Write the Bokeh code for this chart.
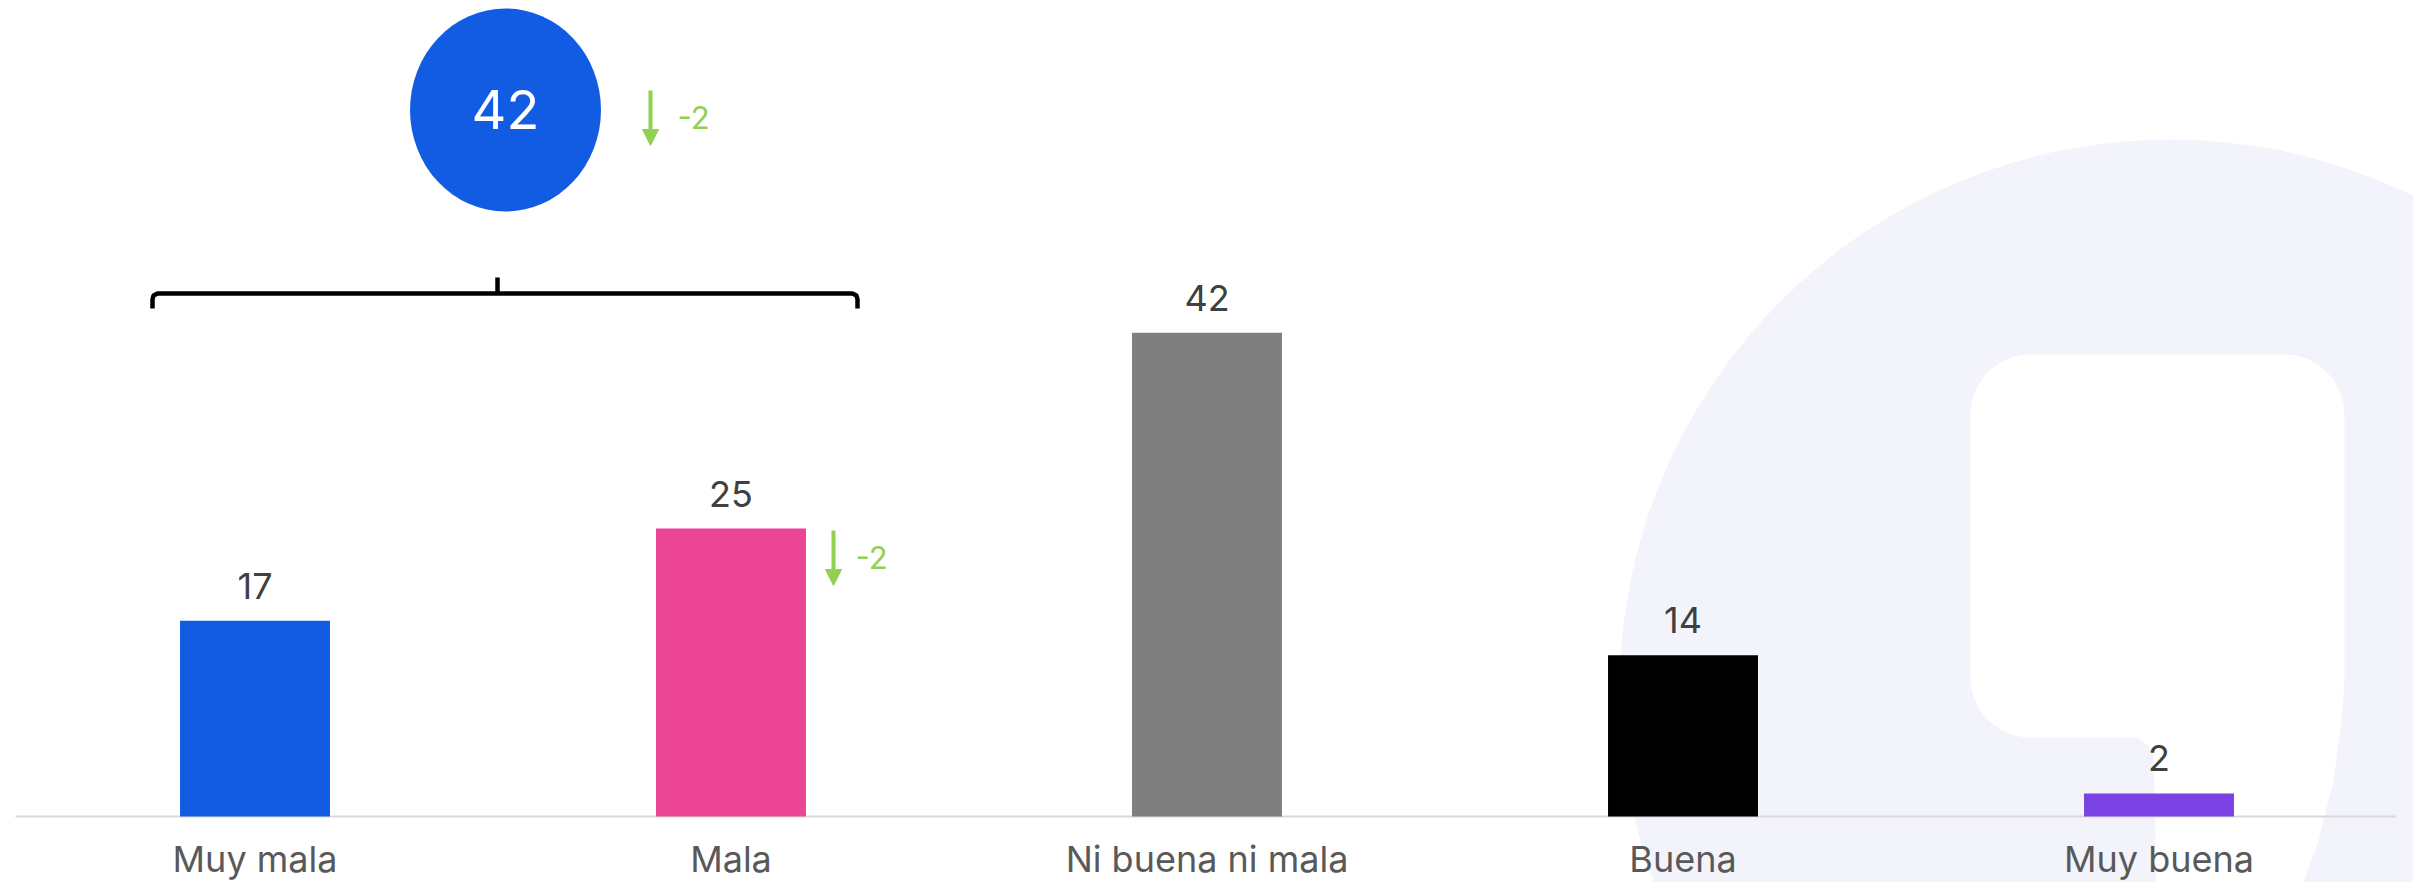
import math
from bokeh.plotting import figure
from bokeh.models import Range1d, Arrow, NormalHead
from bokeh.core.properties import value
from bokeh.embed import file_html
from bokeh.resources import INLINE

# ---------------- data ----------------
categories = ["Muy mala", "Mala", "Ni buena ni mala", "Buena", "Muy buena"]
values = [17, 25, 42, 14, 2]
bar_colors = ["#115BE3", "#EC4595", "#7F7F7F", "#000000", "#7B43E3"]
group_total = 42          # Muy mala + Mala
group_change = "-2"
mala_change = "-2"

# ---------------- layout ----------------
W, H = 2413, 882
sx = 476.0
x_start = 0.5 - 254.5 / sx
x_end = x_start + W / sx
sy = 11.52
y_end = 816 / sy
y_start = -(H - 816) / sy

def X(px):   # page pixel -> data x
    return x_start + px / sx

def Y(py):   # page pixel -> data y
    return y_end - py / sy

p = figure(width=W, height=H, output_backend="svg", toolbar_location=None,
           x_range=Range1d(x_start, x_end), y_range=Range1d(y_start, y_end),
           min_border=0, x_axis_type=None, y_axis_type=None)
p.outline_line_color = None
p.grid.visible = False
p.background_fill_color = "white"
p.border_fill_color = "white"

# ---------------- watermark ----------------
lav = "#F3F4FB"
p.ellipse(x=[X(2170)], y=[Y(690)], width=[1102], height=[1102],
          width_units="screen", height_units="screen",
          fill_color=lav, line_color=None)

def rrect(x0, y0, x1, y1, r, n=12):
    pts = []
    corners = [(x1 - r, y0 + r, -90, 0), (x1 - r, y1 - r, 0, 90),
               (x0 + r, y1 - r, 90, 180), (x0 + r, y0 + r, 180, 270)]
    for cx, cy, a0, a1 in corners:
        for k in range(n + 1):
            a = math.radians(a0 + (a1 - a0) * k / n)
            pts.append((cx + r * math.cos(a), cy + r * math.sin(a)))
    return [X(a) for a, _ in pts], [Y(b) for _, b in pts]

rx, ry = rrect(1970, 354, 2344, 737, 60)
p.patch(rx, ry, fill_color="white", line_color=None)
stem_x = [2120, 2138, 2148, 2153, 2156, 2300, 2318, 2333, 2341, 2344]
stem_y = [700, 738, 745, 756, 890, 890, 840, 780, 720, 680]
p.patch([X(v) for v in stem_x], [Y(v) for v in stem_y], fill_color="white", line_color=None)

# ---------------- baseline ----------------
p.segment(x0=[X(15)], x1=[X(2396)], y0=[0], y1=[0], line_color="#D9D9D9", line_width=2)

# ---------------- bars ----------------
xs = [i + 0.5 for i in range(len(categories))]
p.vbar(x=xs, top=values, width=0.315, bottom=0, fill_color=bar_colors, line_color=None)

p.text(x=xs, y=values, text=[str(v) for v in values], text_font=value("Inter"),
       text_font_size="36px", text_color="#404040", text_align="center",
       text_baseline="alphabetic", y_offset=-35)

p.text(x=xs, y=[Y(858)] * len(xs), text=categories, text_font=value("Inter"),
       text_font_size="36px", text_color="#595959", text_align="center",
       text_baseline="alphabetic")

# ---------------- group bubble ----------------
p.ellipse(x=[X(505)], y=[Y(109.5)], width=[191], height=[203],
          width_units="screen", height_units="screen",
          fill_color="#125CE4", line_color=None)
p.text(x=[X(505)], y=[Y(109)], text=[str(group_total)], text_font=value("Inter"),
       text_font_size="54px", text_color="white", text_align="center",
       text_baseline="alphabetic")

green = "#92D050"
p.add_layout(Arrow(end=NormalHead(size=16, fill_color=green, line_color=green),
                   x_start=X(650), y_start=Y(90), x_end=X(650), y_end=Y(145),
                   line_color=green, line_width=4))
p.text(x=[X(677)], y=[Y(117)], text=[group_change], text_font=value("Inter"),
       text_font_size="31px", text_color=green, text_align="left",
       text_baseline="alphabetic")

p.add_layout(Arrow(end=NormalHead(size=16, fill_color=green, line_color=green),
                   x_start=X(833), y_start=Y(530), x_end=X(833), y_end=Y(585),
                   line_color=green, line_width=4))
p.text(x=[X(855)], y=[Y(557)], text=[mala_change], text_font=value("Inter"),
       text_font_size="31px", text_color=green, text_align="left",
       text_baseline="alphabetic")

# ---------------- bracket ----------------
bx = [152, 152, 153, 157, 852, 856, 857, 857]
by = [308, 299, 295, 293, 293, 295, 299, 308]
p.line([X(v) for v in bx], [Y(v) for v in by], line_color="black", line_width=4.5)
p.line([X(497), X(497)], [Y(293), Y(277)], line_color="black", line_width=4.5)

open("out.html", "w").write(file_html(p, INLINE))
